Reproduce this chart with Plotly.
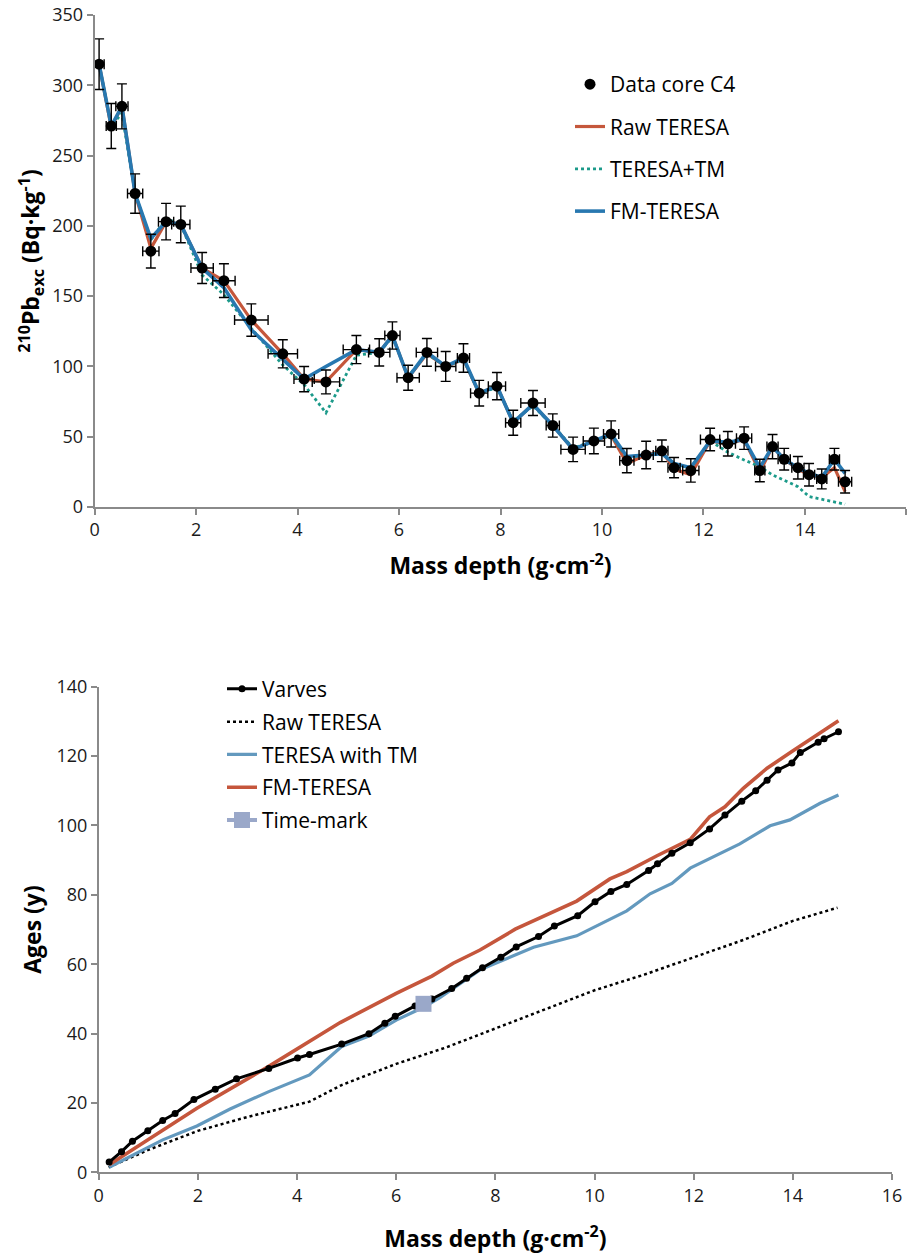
import plotly.graph_objects as go

# ---------------- Top chart data (210Pb excess vs mass depth) ----------------
depth_c4 = [0.09, 0.33, 0.54, 0.80, 1.11, 1.41, 1.70, 2.12, 2.55, 3.09, 3.71, 4.13, 4.56, 5.16,
            5.61, 5.87, 6.18, 6.55, 6.92, 7.27, 7.58, 7.93, 8.25, 8.64, 9.03, 9.43, 9.84, 10.18,
            10.49, 10.87, 11.18, 11.42, 11.75, 12.13, 12.48, 12.80, 13.11, 13.36, 13.59, 13.86,
            14.08, 14.33, 14.58, 14.79]
pb_c4 = [315, 271, 285, 223, 182, 203, 201, 170, 161, 133, 109, 91, 89, 112,
         110, 122, 92, 110, 100, 106, 81, 86, 60, 74, 58, 41, 47, 52,
         33, 37, 40, 28, 26, 48, 45, 49, 26, 43, 34, 28, 23, 20, 34, 18]
pb_err = [18, 16, 16, 14, 12, 13, 13, 11, 12, 11.5, 10, 9, 8.5, 10,
          9.7, 9.7, 8.9, 9.9, 10.6, 10.1, 9.1, 9.7, 8.9, 8.9, 8.3, 8.7, 9.1, 9.3,
          8.6, 9.8, 7.7, 7.2, 8.3, 8, 8.7, 8, 8, 8.6, 7.7, 8, 8, 7.1, 7.7, 8]
depth_err = [0.10, 0.10, 0.12, 0.15, 0.16, 0.15, 0.18, 0.22, 0.22, 0.33, 0.29, 0.20, 0.27, 0.26,
             0.21, 0.15, 0.22, 0.21, 0.20, 0.12, 0.17, 0.17, 0.15, 0.24, 0.13, 0.24, 0.21, 0.15,
             0.14, 0.14, 0.12, 0.12, 0.16, 0.19, 0.15, 0.15, 0.10, 0.11, 0.12, 0.12, 0.11, 0.10,
             0.10, 0.13]
pb_raw_teresa = [315, 270, 285, 223, 184, 203, 201, 170, 161, 133, 109, 91, 89, 112,
                 110, 122, 92, 109, 100, 105, 81, 86, 60, 73, 58, 41, 47, 51,
                 31, 37, 40, 27, 23, 47, 45, 48, 25, 43, 34, 27, 23, 21, 28, 11]
pb_teresa_tm = [315, 271, 280, 223, 190, 205, 201, 165, 151, 127, 101, 87, 67, 108,
                110, 121, 93, 109, 100, 105, 81, 85, 61, 72, 58, 42, 47, 51,
                35, 37, 39, 30, 28, 47, 39, 33.5, 28.7, 22.8, 19.2, 14.5, 7.5, 5.5, 4, 2]
pb_fm_teresa = [315, 271, 285, 223, 191, 203, 201, 170, 156, 126, 105, 91, 100, 112,
                110, 122, 92, 110, 100, 106, 81, 86, 60, 73, 58, 41, 47, 52,
                36, 37, 38, 31, 28, 47, 46, 48, 28, 43, 34, 28, 24, 21, 34, 24]

# ---------------- Bottom chart data (ages vs mass depth) ----------------
depth_varves = [0.21, 0.46, 0.68, 0.99, 1.29, 1.54, 1.92, 2.35, 2.78, 3.43, 4.01, 4.25, 4.90,
                5.45, 5.77, 5.98, 6.38, 6.72, 7.12, 7.42, 7.74, 8.11, 8.42, 8.87, 9.19, 9.66,
                10.01, 10.33, 10.65, 11.09, 11.27, 11.56, 11.93, 12.32, 12.63, 12.97, 13.25,
                13.48, 13.70, 13.98, 14.15, 14.51, 14.63, 14.92]
age_varves = [3, 6, 9, 12, 15, 17, 21, 24, 27, 30, 33, 34, 37,
              40, 43, 45, 48, 50, 53, 56, 59, 62, 65, 68, 71, 74,
              78, 81, 83, 87, 89, 92, 95, 99, 103, 107, 110,
              113, 116, 118, 121, 124, 125, 127]

depth_raw = [0.2, 1.0, 2.0, 3.0, 4.25, 4.9, 6.0, 7.0, 8.0, 9.0, 10.0, 11.0, 12.0, 13.0, 14.0, 14.9]
age_raw = [1.5, 6.5, 12, 16, 20.4, 25.2, 31.3, 36, 41.5, 47, 52.5, 57, 62, 67, 72.5, 76.3]

depth_tm = [0.21, 1.29, 1.98, 2.65, 3.43, 4.25, 4.90, 5.45, 6.0, 6.55, 6.88, 7.69, 8.77, 9.64,
            10.65, 11.12, 11.56, 11.93, 12.93, 13.54, 13.94, 14.55, 14.92]
age_tm = [1.5, 9.4, 13.4, 18.3, 23.3, 28.1, 36.3, 39.3, 43.9, 47.6, 50.4, 58.4, 64.9, 68.2,
          75.4, 80.3, 83.3, 87.7, 94.7, 99.9, 101.6, 106.4, 108.8]

depth_fm = [0.21, 1.98, 3.42, 4.87, 6.0, 6.72, 7.15, 7.69, 8.40, 9.64, 10.31, 10.65, 11.25,
            11.93, 12.32, 12.63, 13.0, 13.48, 13.98, 14.55, 14.92]
age_fm = [2.2, 18.5, 30.5, 43.2, 51.6, 56.6, 60.3, 64.1, 70.1, 78.2, 84.6, 86.7, 91.2,
          96.0, 102.5, 105.4, 110.7, 116.5, 121.3, 126.6, 130.2]

depth_timemark = [6.55]
age_timemark = [48.6]

FONT = "Open Sans"
AXIS_GREY = "#8a8a8a"

fig = go.Figure()

# ---- top chart traces ----
fig.add_trace(go.Scatter(x=depth_c4, y=pb_raw_teresa, mode="lines", name="Raw TERESA",
                         line=dict(color="#C5573B", width=3.2), legend="legend",
                         legendgroup="a2", legendrank=2, xaxis="x", yaxis="y"))
fig.add_trace(go.Scatter(x=depth_c4, y=pb_teresa_tm, mode="lines", name="TERESA+TM",
                         line=dict(color="#1C9A8A", width=2.8, dash="dot"), legend="legend",
                         legendgroup="a3", legendrank=3, xaxis="x", yaxis="y"))
fig.add_trace(go.Scatter(x=depth_c4, y=pb_fm_teresa, mode="lines", name="FM-TERESA",
                         line=dict(color="#2878B0", width=3.6), legend="legend",
                         legendgroup="a4", legendrank=4, xaxis="x", yaxis="y"))
fig.add_trace(go.Scatter(x=depth_c4, y=pb_c4, mode="markers", name="Data core C4",
                         marker=dict(color="black", size=11),
                         error_y=dict(type="data", array=pb_err, color="black", thickness=1.4, width=5),
                         error_x=dict(type="data", array=depth_err, color="black", thickness=1.4, width=5),
                         legend="legend", legendgroup="a1", legendrank=1, xaxis="x", yaxis="y"))

# ---- bottom chart traces ----
fig.add_trace(go.Scatter(x=depth_raw, y=age_raw, mode="lines", name="Raw TERESA",
                         line=dict(color="black", width=2.5, dash="dot"), legend="legend2",
                         legendgroup="b2", legendrank=2, xaxis="x2", yaxis="y2"))
fig.add_trace(go.Scatter(x=depth_tm, y=age_tm, mode="lines", name="TERESA with TM",
                         line=dict(color="#6399BE", width=3.2), legend="legend2",
                         legendgroup="b3", legendrank=3, xaxis="x2", yaxis="y2"))
fig.add_trace(go.Scatter(x=depth_fm, y=age_fm, mode="lines", name="FM-TERESA",
                         line=dict(color="#C5563C", width=3.6), legend="legend2",
                         legendgroup="b4", legendrank=4, xaxis="x2", yaxis="y2"))
fig.add_trace(go.Scatter(x=depth_varves, y=age_varves, mode="lines+markers", name="Varves",
                         line=dict(color="black", width=3), marker=dict(color="black", size=7),
                         legend="legend2", legendgroup="b1", legendrank=1, xaxis="x2", yaxis="y2"))
fig.add_trace(go.Scatter(x=depth_timemark, y=age_timemark, mode="lines+markers", name="Time-mark",
                         line=dict(color="#9AA8C9", width=4),
                         marker=dict(color="#9AA8C9", size=16, symbol="square"),
                         legend="legend2", legendgroup="b5", legendrank=5, xaxis="x2", yaxis="y2"))

axis_common = dict(showline=True, linecolor=AXIS_GREY, linewidth=1.5, ticks="outside",
                   ticklen=6, tickwidth=1.5, tickcolor=AXIS_GREY, showgrid=False, zeroline=False,
                   automargin=False,
                   tickfont=dict(family=FONT, size=18, color="#1a1a1a"))
title_font = dict(family=FONT, size=23, color="black", weight="bold")

fig.update_layout(
    width=915, height=1256,
    margin=dict(l=0, r=0, t=0, b=0, autoexpand=False),
    paper_bgcolor="white", plot_bgcolor="white",
    font=dict(family=FONT, color="black"),
    xaxis=dict(domain=[0.1033, 0.9907], anchor="y", range=[0, 16], dtick=2,
               title=dict(text="Mass depth (g·cm<sup>-2</sup>)", font=title_font, standoff=18),
               **axis_common),
    yaxis=dict(domain=[0.5963, 0.9881], anchor="x", range=[0, 350], dtick=50,
               title=dict(text="<sup>210</sup>Pb<sub>exc</sub> (Bq·kg<sup>-1</sup>)", font=title_font, standoff=6),
               **axis_common),
    xaxis2=dict(domain=[0.1079, 0.9749], anchor="y2", range=[0, 16], dtick=2,
                title=dict(text="Mass depth (g·cm<sup>-2</sup>)", font=title_font, standoff=25),
                **axis_common),
    yaxis2=dict(domain=[0.0665, 0.4533], anchor="x2", range=[0, 140], dtick=20,
                title=dict(text="Ages (y)", font=title_font, standoff=8),
                **axis_common),
    legend=dict(x=570 / 915, y=0.949, xanchor="left", yanchor="top", bgcolor="rgba(0,0,0,0)",
                font=dict(family=FONT, size=21, color="black"), tracegroupgap=12),
    legend2=dict(x=222 / 915, y=0.4676, xanchor="left", yanchor="top", bgcolor="rgba(0,0,0,0)",
                 font=dict(family=FONT, size=21, color="black"), tracegroupgap=2.5),
    showlegend=True,
)

fig.write_html("out.html")
